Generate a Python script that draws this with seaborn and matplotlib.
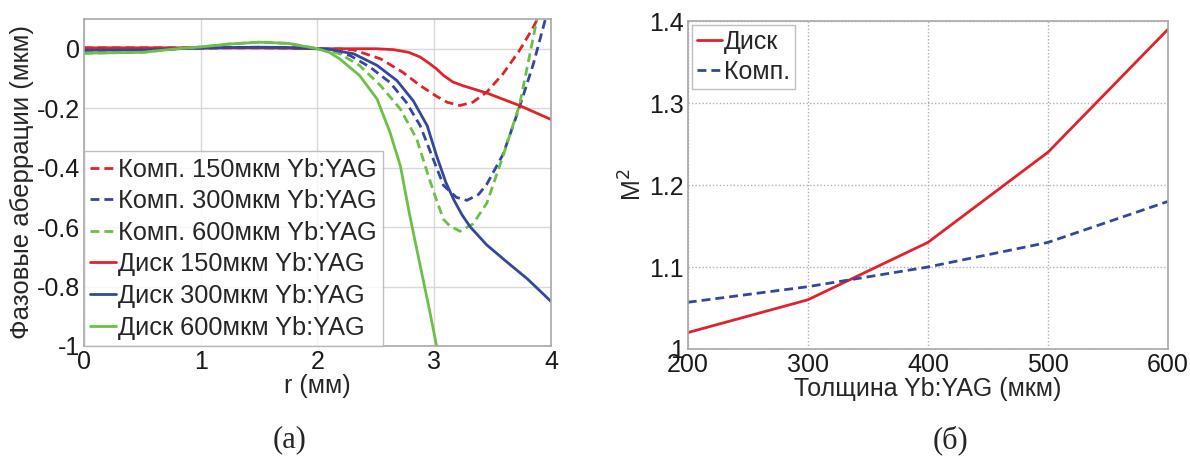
import numpy as np
import pandas as pd
import matplotlib
matplotlib.use("Agg")
import matplotlib.pyplot as plt
import seaborn as sns

# ---- panel (а): phase aberrations vs radius ----
r_near = [0.0, 0.5, 0.8, 1.0, 1.25, 1.5, 1.75, 2.0]
green_near = [-0.015, -0.012, 0.0, 0.006, 0.016, 0.022, 0.018, 0.0]
blue_near = [-0.005, -0.004, 0.0, 0.002, 0.004, 0.005, 0.004, 0.0]
red_near = [0.003, 0.003, 0.003, 0.003, 0.003, 0.003, 0.002, 0.0]

komp150_r = r_near + [2.2, 2.31, 2.54, 2.73, 2.88, 3.02, 3.11, 3.22, 3.33, 3.45, 3.59, 3.73, 3.85, 3.92]
komp150_y = red_near + [-0.001, -0.004, -0.034, -0.079, -0.124, -0.16, -0.18, -0.191, -0.18, -0.146, -0.084, -0.006, 0.073, 0.13]

komp300_r = r_near + [2.1, 2.28, 2.45, 2.62, 2.76, 2.88, 2.98, 3.08, 3.19, 3.28, 3.38, 3.45, 3.59, 3.73, 3.85, 3.95, 4.0]
komp300_y = blue_near + [-0.003, -0.023, -0.062, -0.113, -0.18, -0.259, -0.36, -0.46, -0.50, -0.51, -0.49, -0.456, -0.355, -0.197, -0.05, 0.096, 0.15]

komp600_r = r_near + [2.1, 2.19, 2.36, 2.54, 2.71, 2.85, 2.96, 3.02, 3.08, 3.13, 3.22, 3.33, 3.45, 3.59, 3.73, 3.82, 3.88, 3.92]
komp600_y = green_near + [-0.006, -0.017, -0.056, -0.124, -0.203, -0.304, -0.44, -0.51, -0.574, -0.595, -0.614, -0.59, -0.52, -0.36, -0.19, -0.017, 0.10, 0.16]

disk150_r = r_near + [2.5, 2.65, 2.78, 2.88, 2.96, 3.02, 3.08, 3.16, 3.25, 3.45, 3.73, 4.0]
disk150_y = red_near + [0.0, -0.003, -0.012, -0.028, -0.05, -0.068, -0.09, -0.112, -0.125, -0.149, -0.191, -0.238]

disk300_r = r_near + [2.1, 2.31, 2.51, 2.68, 2.82, 2.94, 3.02, 3.1, 3.17, 3.24, 3.31, 3.45, 3.6, 3.8, 4.0]
disk300_y = blue_near + [-0.002, -0.017, -0.056, -0.107, -0.175, -0.259, -0.36, -0.45, -0.51, -0.56, -0.60, -0.66, -0.71, -0.775, -0.85]

disk600_r = r_near + [2.1, 2.19, 2.36, 2.51, 2.62, 2.71, 2.79, 2.88, 2.96, 3.02, 3.06]
disk600_y = green_near + [-0.012, -0.034, -0.09, -0.169, -0.28, -0.394, -0.56, -0.73, -0.88, -1.0, -1.08]

labels_a = ["Комп. 150мкм Yb:YAG", "Комп. 300мкм Yb:YAG", "Комп. 600мкм Yb:YAG",
            "Диск 150мкм Yb:YAG", "Диск 300мкм Yb:YAG", "Диск 600мкм Yb:YAG"]

# ---- panel (б): beam quality vs thickness ----
thickness = [200, 300, 400, 500, 600]
m2_disk = [1.02, 1.06, 1.13, 1.24, 1.39]
m2_komp = [1.057, 1.076, 1.10, 1.13, 1.18]

RED = "#e0232b"
BLUE = "#34479c"
GREEN = "#6cbf47"
DASH = (0, (3.2, 1.8))

sns.set_theme(style="white")
plt.rcParams["font.family"] = ["Liberation Sans", "DejaVu Sans"]
plt.rcParams["axes.unicode_minus"] = False

fig = plt.figure(figsize=(11.9, 4.59), dpi=100)
ax1 = fig.add_axes([0.0706, 0.2462, 0.3924, 0.7124])
ax2 = fig.add_axes([0.578, 0.2397, 0.4035, 0.7143])

series = [
    (komp150_r, komp150_y, RED, DASH),
    (komp300_r, komp300_y, BLUE, DASH),
    (komp600_r, komp600_y, GREEN, DASH),
    (disk150_r, disk150_y, RED, "-"),
    (disk300_r, disk300_y, BLUE, "-"),
    (disk600_r, disk600_y, GREEN, "-"),
]
for (xs, ys, c, ls), lab in zip(series, labels_a):
    df = pd.DataFrame({"r": xs, "y": ys})
    sns.lineplot(data=df, x="r", y="y", ax=ax1, color=c, linestyle=ls,
                 linewidth=2.0, label=lab, estimator=None, sort=False)

ax1.set_xlim(0, 4)
ax1.set_ylim(-1, 0.1)
ax1.set_xticks([0, 1, 2, 3, 4])
ax1.set_xticklabels(["0", "1", "2", "3", "4"])
ax1.set_yticks([0, -0.2, -0.4, -0.6, -0.8, -1])
ax1.set_yticklabels(["0", "-0.2", "-0.4", "-0.6", "-0.8", "-1"])
ax1.grid(True, color="#d8d8d8", linewidth=1.0, linestyle="-")
ax1.set_axisbelow(True)
ax1.set_xlabel("r (мм)", fontsize=18, labelpad=0)
ax1.set_ylabel("Фазовые аберрации (мкм)", fontsize=18.5, labelpad=2)
leg1 = ax1.legend(loc="lower left", fontsize=18.3, frameon=True, fancybox=False,
                  handlelength=1.0, handletextpad=0.1, borderpad=0.25,
                  labelspacing=0.3, borderaxespad=0.0, edgecolor="#b0b0b0")
leg1.get_frame().set_linewidth(1.0)

dk = pd.DataFrame({"t": thickness, "m2": m2_disk})
kp = pd.DataFrame({"t": thickness, "m2": m2_komp})
sns.lineplot(data=dk, x="t", y="m2", ax=ax2, color=RED, linewidth=2.0,
             label="Диск", estimator=None)
sns.lineplot(data=kp, x="t", y="m2", ax=ax2, color=BLUE, linewidth=2.0,
             linestyle=DASH, label="Комп.", estimator=None)
ax2.set_xlim(200, 600)
ax2.set_ylim(1, 1.4)
ax2.set_xticks(thickness)
ax2.set_xticklabels([str(t) for t in thickness])
ax2.set_yticks([1, 1.1, 1.2, 1.3, 1.4])
ax2.set_yticklabels(["1", "1.1", "1.2", "1.3", "1.4"])
ax2.grid(True, color="#b0b0b0", linewidth=1.0, linestyle=(0, (1, 1.5)))
ax2.set_axisbelow(True)
ax2.set_xlabel("Толщина Yb:YAG (мкм)", fontsize=18, labelpad=0)
ax2.set_ylabel("M$^2$", fontsize=18, labelpad=2)
leg2 = ax2.legend(loc="upper left", fontsize=18, frameon=True, fancybox=False,
                  handlelength=1.0, handletextpad=0.1, borderpad=0.2,
                  labelspacing=0.25, borderaxespad=0.15, edgecolor="#b0b0b0")
leg2.get_frame().set_linewidth(1.0)

for ax in (ax1, ax2):
    for s in ax.spines.values():
        s.set_color("#a8a8a8")
        s.set_linewidth(1.2)
    ax.tick_params(axis="both", labelsize=18, direction="in", length=3,
                   pad=3, colors="#a8a8a8", labelcolor="#1a1a1a")

fig.text(290 / 1190, 1 - 440 / 459, "(а)", fontsize=22, family="Liberation Serif",
         ha="center", va="center")
fig.text(950 / 1190, 1 - 440 / 459, "(б)", fontsize=22, family="Liberation Serif",
         ha="center", va="center")

fig.savefig("out.png", dpi=100, facecolor="white")
